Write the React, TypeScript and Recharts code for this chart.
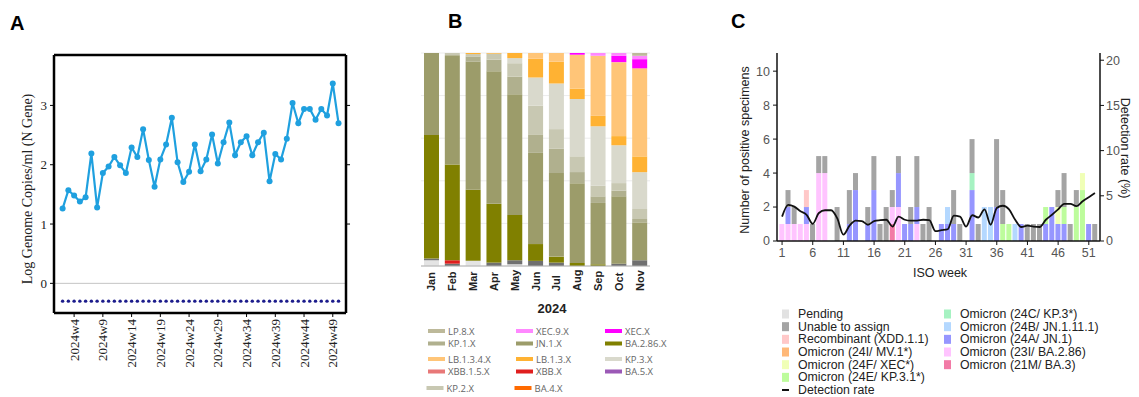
import React from "react";
import {
  LineChart,
  Line,
  XAxis,
  YAxis,
  ReferenceLine,
  BarChart,
  Bar,
  CartesianGrid,
  ComposedChart,
} from "recharts";

// ---------- Panel A: wastewater log genome copies by week ----------
const weeksA = [
  2, 3, 4, 5, 6, 7, 8, 9, 10, 11, 12, 13, 14, 15, 16, 17, 18, 19, 20, 21, 22, 23, 24, 25, 26,
  27, 28, 29, 30, 31, 32, 33, 34, 35, 36, 37, 38, 39, 40, 41, 42, 43, 44, 45, 46, 47, 48, 49, 50,
];
const logCopies = [
  1.26, 1.57, 1.48, 1.38, 1.45, 2.19, 1.28, 1.86, 1.97, 2.13, 1.99, 1.86, 2.29, 2.13, 2.6, 2.08,
  1.63, 2.09, 2.34, 2.79, 2.04, 1.71, 1.88, 2.34, 1.89, 2.09, 2.51, 2.02, 2.38, 2.71, 2.16, 2.38,
  2.48, 2.16, 2.38, 2.54, 1.72, 2.18, 2.09, 2.44, 3.04, 2.7, 2.94, 2.94, 2.76, 2.94, 2.83, 3.37,
  2.7,
];
const lodLevel = -0.3;
const weekTicksA = [4, 9, 14, 19, 24, 29, 34, 39, 44, 49];
const logTicksA = [0, 1, 2, 3];
const domainWeekA = [0.5, 51.3];
const domainLogA = [-0.5, 3.85];

// ---------- Panel B: lineage share by month ----------
const months = ["Jan", "Feb", "Mar", "Apr", "May", "Jun", "Jul", "Aug", "Sep", "Oct", "Nov"];
const pctUnassigned = [2.7, 0, 2.4, 0, 0.8, 0, 0, 0, 0, 0, 0];
const pctOther = [0.8, 1.1, 0, 1.6, 1.9, 2.4, 1.6, 0, 0, 1.1, 2.7];
const pctXBB = [0, 1.6, 0, 0, 0, 0, 0, 0, 0, 0, 0];
const pctBA286 = [58, 45, 33.2, 27.6, 21.3, 7.9, 2.8, 1.4, 0.8, 0, 0];
const pctJN1 = [38.5, 51.3, 59.7, 62.2, 56.7, 42.8, 39.2, 37.5, 28.8, 31.7, 17.8];
const pctKP1 = [0, 0, 2.4, 5.5, 8.3, 8.7, 11.5, 5.2, 3.1, 2.7, 1.6];
const pctKP2 = [0, 1.0, 1.1, 2.8, 6.3, 13.5, 9.1, 7.4, 5.0, 3.5, 4.7];
const pctKP3 = [0, 0, 0, 0, 2.4, 13.2, 21.4, 26.9, 27.9, 17.8, 17.3];
const pctLB13 = [0, 0, 0.5, 0.3, 2.4, 8.8, 10.2, 4.9, 4.9, 4.3, 7.4];
const pctLB134 = [0, 0, 0, 0, 0, 2.7, 4.1, 15.9, 28.2, 34.8, 41.4];
const pctXEC = [0, 0, 0, 0, 0, 0, 0, 0.8, 0, 3.0, 4.3];
const pctXEC9 = [0, 0, 0, 0, 0, 0, 0, 0, 1.3, 1.3, 1.6];
const pctLP8 = [0, 0, 0, 0, 0, 0, 0, 0, 0, 0, 1.3];

const seriesB = [
  { key: "unassigned", color: "#e4e4e4", values: pctUnassigned },
  { key: "other", color: "#707070", values: pctOther },
  { key: "xbb", color: "#e01e1e", values: pctXBB },
  { key: "ba286", color: "#808000", values: pctBA286 },
  { key: "jn1", color: "#9c9c6a", values: pctJN1 },
  { key: "kp1", color: "#b0b08e", values: pctKP1 },
  { key: "kp2", color: "#c8c8b2", values: pctKP2 },
  { key: "kp3", color: "#d9d9cc", values: pctKP3 },
  { key: "lb13", color: "#ffb233", values: pctLB13 },
  { key: "lb134", color: "#ffc578", values: pctLB134 },
  { key: "xec", color: "#ff00ff", values: pctXEC },
  { key: "xec9", color: "#ff88ff", values: pctXEC9 },
  { key: "lp8", color: "#bdb99a", values: pctLP8 },
];

const legendB = [
  { name: "LP.8.X", color: "#bdb99a", col: 0, row: 0 },
  { name: "KP.1.X", color: "#b0b08e", col: 0, row: 1 },
  { name: "LB.1.3.4.X", color: "#ffc578", col: 0, row: 2 },
  { name: "XBB.1.5.X", color: "#e87878", col: 0, row: 3 },
  { name: "KP.2.X", color: "#c8c8b2", col: 0, row: 4 },
  { name: "XEC.9.X", color: "#ff88ff", col: 1, row: 0 },
  { name: "JN.1.X", color: "#9c9c6a", col: 1, row: 1 },
  { name: "LB.1.3.X", color: "#ffb233", col: 1, row: 2 },
  { name: "XBB.X", color: "#e01e1e", col: 1, row: 3 },
  { name: "BA.4.X", color: "#ff6a00", col: 1, row: 4 },
  { name: "XEC.X", color: "#ff00ff", col: 2, row: 0 },
  { name: "BA.2.86.X", color: "#808000", col: 2, row: 1 },
  { name: "KP.3.X", color: "#d9d9cc", col: 2, row: 2 },
  { name: "BA.5.X", color: "#9b59b6", col: 2, row: 3 },
];

// ---------- Panel C: positive specimens by ISO week ----------
const weeksC = [
  1, 2, 3, 4, 5, 6, 7, 8, 9, 10, 11, 12, 13, 14, 15, 16, 17, 18, 19, 20, 21, 22, 23, 24, 25, 26,
  27, 28, 29, 30, 31, 32, 33, 34, 35, 36, 37, 38, 39, 40, 41, 42, 43, 44, 45, 46, 47, 48, 49, 50,
  51, 52,
];
const cBA3 = [
  0, 0, 0, 0, 0, 0, 0, 0, 0, 0, 0, 0, 0, 0, 0, 0, 0, 0, 1, 0, 0, 0, 0, 0, 0, 0,
  0, 0, 0, 0, 0, 0, 0, 0, 0, 0, 0, 0, 0, 0, 0, 0, 0, 0, 0, 0, 0, 0, 0, 0, 0, 0,
];
const cBA286 = [
  1, 1, 1, 1, 1, 0, 4, 4, 0, 0, 0, 0, 0, 0, 0, 0, 0, 0, 1, 2, 0, 0, 1, 0, 0, 0,
  0, 0, 0, 0, 0, 0, 0, 0, 0, 0, 0, 0, 0, 0, 0, 0, 0, 0, 0, 0, 0, 0, 0, 0, 0, 0,
];
const cJN1 = [
  0, 1, 0, 0, 1, 0, 0, 0, 0, 0, 0, 1, 3, 0, 1, 3, 0, 0, 0, 2, 1, 1, 1, 0, 0, 0,
  1, 1, 1, 0, 0, 3, 0, 0, 0, 2, 0, 0, 0, 1, 0, 0, 0, 1, 2, 1, 1, 0, 0, 0, 1, 0,
];
const cJN1111 = [
  0, 0, 0, 0, 0, 0, 0, 0, 0, 0, 0, 0, 0, 0, 0, 0, 0, 0, 0, 0, 0, 0, 0, 0, 0, 0,
  0, 1, 0, 0, 0, 0, 0, 2, 2, 0, 0, 0, 1, 0, 0, 0, 0, 0, 0, 0, 0, 0, 0, 0, 0, 0,
];
const cKP3 = [
  0, 0, 0, 0, 0, 0, 0, 0, 0, 0, 0, 0, 0, 0, 0, 0, 0, 0, 0, 0, 0, 0, 0, 0, 0, 0,
  0, 0, 0, 0, 0, 1, 0, 0, 0, 0, 0, 0, 0, 0, 0, 0, 0, 0, 0, 0, 0, 0, 0, 0, 0, 0,
];
const cKP31 = [
  0, 0, 0, 0, 0, 0, 0, 0, 0, 0, 0, 0, 0, 0, 0, 0, 0, 0, 0, 0, 0, 0, 0, 0, 0, 0,
  0, 0, 0, 0, 0, 0, 0, 0, 0, 0, 1, 1, 0, 0, 0, 0, 0, 1, 0, 0, 1, 0, 2, 3, 0, 0,
];
const cXEC = [
  0, 0, 0, 0, 0, 0, 0, 0, 0, 0, 0, 0, 0, 0, 0, 0, 0, 0, 0, 0, 0, 0, 0, 0, 0, 0,
  0, 0, 0, 0, 0, 0, 0, 0, 0, 0, 0, 0, 0, 0, 0, 0, 0, 0, 0, 1, 0, 0, 0, 1, 0, 0,
];
const cXDD = [
  0, 0, 0, 0, 1, 0, 0, 0, 0, 0, 0, 0, 0, 0, 0, 0, 0, 0, 0, 0, 0, 0, 0, 0, 0, 0,
  0, 0, 0, 0, 0, 0, 0, 0, 0, 0, 0, 0, 0, 0, 0, 0, 0, 0, 0, 0, 0, 0, 0, 0, 0, 0,
];
const cUnable = [
  0, 1, 1, 0, 0, 1, 1, 1, 0, 2, 0, 2, 1, 0, 1, 2, 1, 2, 1, 1, 0, 1, 3, 1, 2, 0,
  0, 0, 2, 1, 0, 2, 1, 0, 0, 4, 2, 0, 0, 0, 1, 1, 1, 0, 0, 1, 2, 1, 1, 0, 0, 1,
];
const detectionRate = [
  2.7, 4.0, 3.8, 3.3, 2.9, 1.9, 3.1, 3.4, 3.4, 2.5, 0.7, 1.7, 2.25, 2.2, 1.8, 2.2, 2.3, 2.35,
  1.6, 2.7, 2.35, 2.25, 2.25, 2.35, 2.3, 1.1, 1.2, 1.3, 2.8, 2.7, 1.6, 2.85, 2.6, 3.5, 1.8,
  3.65, 3.9, 3.5, 2.35, 1.55, 1.7, 1.6, 1.55, 2.35, 2.9, 3.5, 4.1, 4.1, 3.85, 4.4, 4.85, 5.3,
];
const weekTicksC = [1, 6, 11, 16, 21, 26, 31, 36, 41, 46, 51];
const countTicksC = [0, 2, 4, 6, 8, 10];
const rateTicksC = [0, 5, 10, 15, 20];

const seriesC = [
  { key: "ba3", color: "#f27aa6", values: cBA3 },
  { key: "ba286", color: "#ffc4ff", values: cBA286 },
  { key: "jn1", color: "#9696ff", values: cJN1 },
  { key: "jn1111", color: "#b4d8ff", values: cJN1111 },
  { key: "kp3", color: "#a6f2c2", values: cKP3 },
  { key: "kp31", color: "#bdfc9c", values: cKP31 },
  { key: "xec", color: "#f0ffb6", values: cXEC },
  { key: "xdd", color: "#ffc8c8", values: cXDD },
  { key: "unable", color: "#a4a4a4", values: cUnable },
];

const legendC = [
  { name: "Pending", color: "#e2e2e2", col: 0, row: 0 },
  { name: "Unable to assign", color: "#a4a4a4", col: 0, row: 1 },
  { name: "Recombinant (XDD.1.1)", color: "#ffc8c8", col: 0, row: 2 },
  { name: "Omicron (24I/ MV.1*)", color: "#ffb878", col: 0, row: 3 },
  { name: "Omicron (24F/ XEC*)", color: "#f0ffb6", col: 0, row: 4 },
  { name: "Omicron (24E/ KP.3.1*)", color: "#bdfc9c", col: 0, row: 5 },
  { name: "Omicron (24C/ KP.3*)", color: "#a6f2c2", col: 1, row: 0 },
  { name: "Omicron (24B/ JN.1.11.1)", color: "#b4d8ff", col: 1, row: 1 },
  { name: "Omicron (24A/ JN.1)", color: "#9696ff", col: 1, row: 2 },
  { name: "Omicron (23I/ BA.2.86)", color: "#ffc4ff", col: 1, row: 3 },
  { name: "Omicron (21M/ BA.3)", color: "#f27aa6", col: 1, row: 4 },
];

const dataA = weeksA.map((w, i) => ({ week: w, copies: logCopies[i], lod: lodLevel }));

const dataB = months.map((m, i) => {
  const row: any = { month: m };
  seriesB.forEach((s) => (row[s.key] = s.values[i]));
  return row;
});

const dataC = weeksC.map((w, i) => {
  const row: any = { week: w, rate: detectionRate[i] };
  seriesC.forEach((s) => (row[s.key] = s.values[i]));
  return row;
});

const serif = "'Liberation Serif', 'Times New Roman', serif";
const sans = "'Liberation Sans', Arial, sans-serif";

const WeekTickA = ({ x, y, payload }: any) => (
  <text
    x={x}
    y={y}
    transform={`rotate(-90 ${x} ${y})`}
    textAnchor="end"
    dominantBaseline="central"
    fontFamily={serif}
    fontSize={13}
    fill="#222"
  >
    {`2024w${payload.value}`}
  </text>
);

const MonthTick = ({ x, payload }: any) => (
  <text
    x={x}
    y={291}
    transform={`rotate(-90 ${x} 291)`}
    textAnchor="start"
    dominantBaseline="central"
    fontFamily={sans}
    fontWeight={700}
    fontSize={11}
    fill="#222"
  >
    {payload.value}
  </text>
);

const abs = (left: number, top: number): React.CSSProperties => ({
  position: "absolute",
  left,
  top,
});

export default function App() {
  return (
    <div
      style={{
        position: "absolute",
        left: 0,
        top: 0,
        width: 1139,
        height: 397,
        background: "#fff",
        overflow: "hidden",
      }}
    >
      {/* A */}
      <div style={abs(0, 0)}>
        <LineChart width={360} height={397} data={dataA} margin={{ top: 55, right: 14, bottom: 14, left: 24 }}>
          <XAxis
            dataKey="week"
            type="number"
            domain={domainWeekA}
            ticks={weekTicksA}
            tick={<WeekTickA />}
            tickSize={4}
            tickLine={{ stroke: "#000" }}
            axisLine={{ stroke: "#000", strokeWidth: 2.5 }}
            height={70}
          />
          <YAxis
            type="number"
            domain={domainLogA}
            ticks={logTicksA}
            tickSize={4}
            tickMargin={3}
            tick={{ fontFamily: serif, fontSize: 13, fill: "#222" }}
            tickLine={{ stroke: "#000" }}
            axisLine={{ stroke: "#000", strokeWidth: 2.5 }}
            width={30}
          />
          <ReferenceLine y={0} stroke="#c4c4c4" strokeWidth={1} />
          {logTicksA.slice(1).map((t) => (
            <ReferenceLine
              key={t}
              segment={[
                { x: domainWeekA[1], y: t },
                { x: domainWeekA[1] + 0.7, y: t },
              ]}
              ifOverflow="visible"
              stroke="#000"
              strokeWidth={1}
            />
          ))}
          <ReferenceLine y={domainLogA[1]} stroke="#000" strokeWidth={2.5} />
          <ReferenceLine x={domainWeekA[1]} stroke="#000" strokeWidth={2.5} />
          <Line
            dataKey="lod"
            stroke="none"
            dot={{ r: 1.7, fill: "#1c1c8c", stroke: "none" }}
            isAnimationActive={false}
          />
          <Line
            dataKey="copies"
            stroke="#1fa0df"
            strokeWidth={2.2}
            dot={{ r: 3, fill: "#1fa0df", stroke: "none" }}
            isAnimationActive={false}
          />
        </LineChart>
      </div>

      {/* B */}
      <div style={abs(400, 0)}>
        <BarChart
          width={260}
          height={300}
          data={dataB}
          stackOffset="expand"
          margin={{ top: 53, right: 10, bottom: 4, left: 21 }}
        >
          <CartesianGrid vertical={false} stroke="#ececec" />
          <XAxis
            dataKey="month"
            tick={<MonthTick />}
            tickLine={false}
            axisLine={{ stroke: "#b0b0b0" }}
            height={30}
            interval={0}
          />
          <YAxis hide domain={[0, 1]} ticks={[0, 0.2, 0.4, 0.6, 0.8, 1]} />
          {seriesB.map((s) => (
            <Bar key={s.key} dataKey={s.key} stackId="b" fill={s.color} barSize={15} isAnimationActive={false} />
          ))}
        </BarChart>
      </div>

      {/* C */}
      <div style={abs(735, 0)}>
        <ComposedChart
          width={404}
          height={300}
          data={dataC}
          barCategoryGap="6%"
          margin={{ top: 53, right: 0, bottom: 29, left: 0 }}
        >
          <XAxis
            dataKey="week"
            type="category"
            ticks={weekTicksC}
            interval={0}
            padding={{ left: 2, right: 2 }}
            tickSize={4}
            tickMargin={3}
            tick={{ fontFamily: sans, fontSize: 12.5, fill: "#555" }}
            tickLine={{ stroke: "#111" }}
            axisLine={{ stroke: "#111", strokeWidth: 1.5 }}
            height={30}
          />
          <YAxis
            yAxisId="left"
            type="number"
            domain={[0, 11.07]}
            ticks={countTicksC}
            tickSize={4}
            tickMargin={3}
            tick={{ fontFamily: sans, fontSize: 12.5, fill: "#555" }}
            tickLine={{ stroke: "#111" }}
            axisLine={{ stroke: "#111", strokeWidth: 1.5 }}
            width={42}
          />
          <YAxis
            yAxisId="right"
            orientation="right"
            type="number"
            domain={[0, 20.8]}
            ticks={rateTicksC}
            tickSize={4}
            tickMargin={2}
            tick={{ fontFamily: sans, fontSize: 12.5, fill: "#555" }}
            tickLine={{ stroke: "#111" }}
            axisLine={{ stroke: "#111", strokeWidth: 1.5 }}
            width={39}
          />
          {seriesC.map((s) => (
            <Bar key={s.key} yAxisId="left" dataKey={s.key} stackId="c" fill={s.color} isAnimationActive={false} />
          ))}
          <Line
            yAxisId="right"
            type="monotone"
            dataKey="rate"
            stroke="#111"
            strokeWidth={1.8}
            dot={false}
            isAnimationActive={false}
          />
        </ComposedChart>
      </div>

      {/* titles, axis labels */}
      <svg width={1139} height={397} style={{ position: "absolute", left: 0, top: 0, pointerEvents: "none" }}>
        <text x={10} y={30} fontFamily={sans} fontWeight={700} fontSize={20} fill="#000">A</text>
        <text x={448} y={28} fontFamily={sans} fontWeight={700} fontSize={20} fill="#000">B</text>
        <text x={731} y={28} fontFamily={sans} fontWeight={700} fontSize={20} fill="#000">C</text>
        <text
          x={27}
          y={189}
          transform="rotate(-90 27 189)"
          textAnchor="middle"
          dominantBaseline="central"
          fontFamily={serif}
          fontSize={14}
          fill="#222"
        >
          Log Genome Copies/ml (N Gene)
        </text>
        <text x={552} y={313} textAnchor="middle" fontFamily={sans} fontWeight={700} fontSize={13} fill="#222">
          2024
        </text>
        <text
          x={745}
          y={150}
          transform="rotate(-90 745 150)"
          textAnchor="middle"
          dominantBaseline="central"
          fontFamily={sans}
          fontSize={12.5}
          fill="#222"
        >
          Number of positive specimens
        </text>
        <text
          x={1125}
          y={148}
          transform="rotate(90 1125 148)"
          textAnchor="middle"
          dominantBaseline="central"
          fontFamily={sans}
          fontSize={12.5}
          fill="#222"
        >
          Detection rate (%)
        </text>
        <text x={940} y={277} textAnchor="middle" fontFamily={sans} fontSize={12.5} fill="#222">
          ISO week
        </text>

        {/* legend B */}
        {legendB.map((e) => {
          const colX = [428, 516, 605][e.col];
          const rowY = [331, 343.5, 359, 371.5, 388][e.row];
          const sx = e.row === 4 ? colX - 1.5 : colX;
          return (
            <g key={e.name}>
              <rect x={sx} y={rowY - 2} width={17} height={4} fill={e.color} />
              <text x={sx + 20} y={rowY} dominantBaseline="central" fontFamily="'Open Sans', sans-serif" fontSize={9.5} fill="#666">
                {e.name}
              </text>
            </g>
          );
        })}

        {/* legend C */}
        {legendC.map((e) => {
          const colX = [782, 944][e.col];
          const rowY = 314 + e.row * 12.67;
          return (
            <g key={e.name}>
              <rect x={colX} y={rowY - 4.5} width={7} height={9} fill={e.color} />
              <text x={colX + 16} y={rowY} dominantBaseline="central" fontFamily={sans} fontSize={12.3} fill="#222">
                {e.name}
              </text>
            </g>
          );
        })}
        <rect x={782} y={389} width={7} height={2} fill="#111" />
        <text x={798} y={390} dominantBaseline="central" fontFamily={sans} fontSize={12.3} fill="#222">
          Detection rate
        </text>
      </svg>
    </div>
  );
}
